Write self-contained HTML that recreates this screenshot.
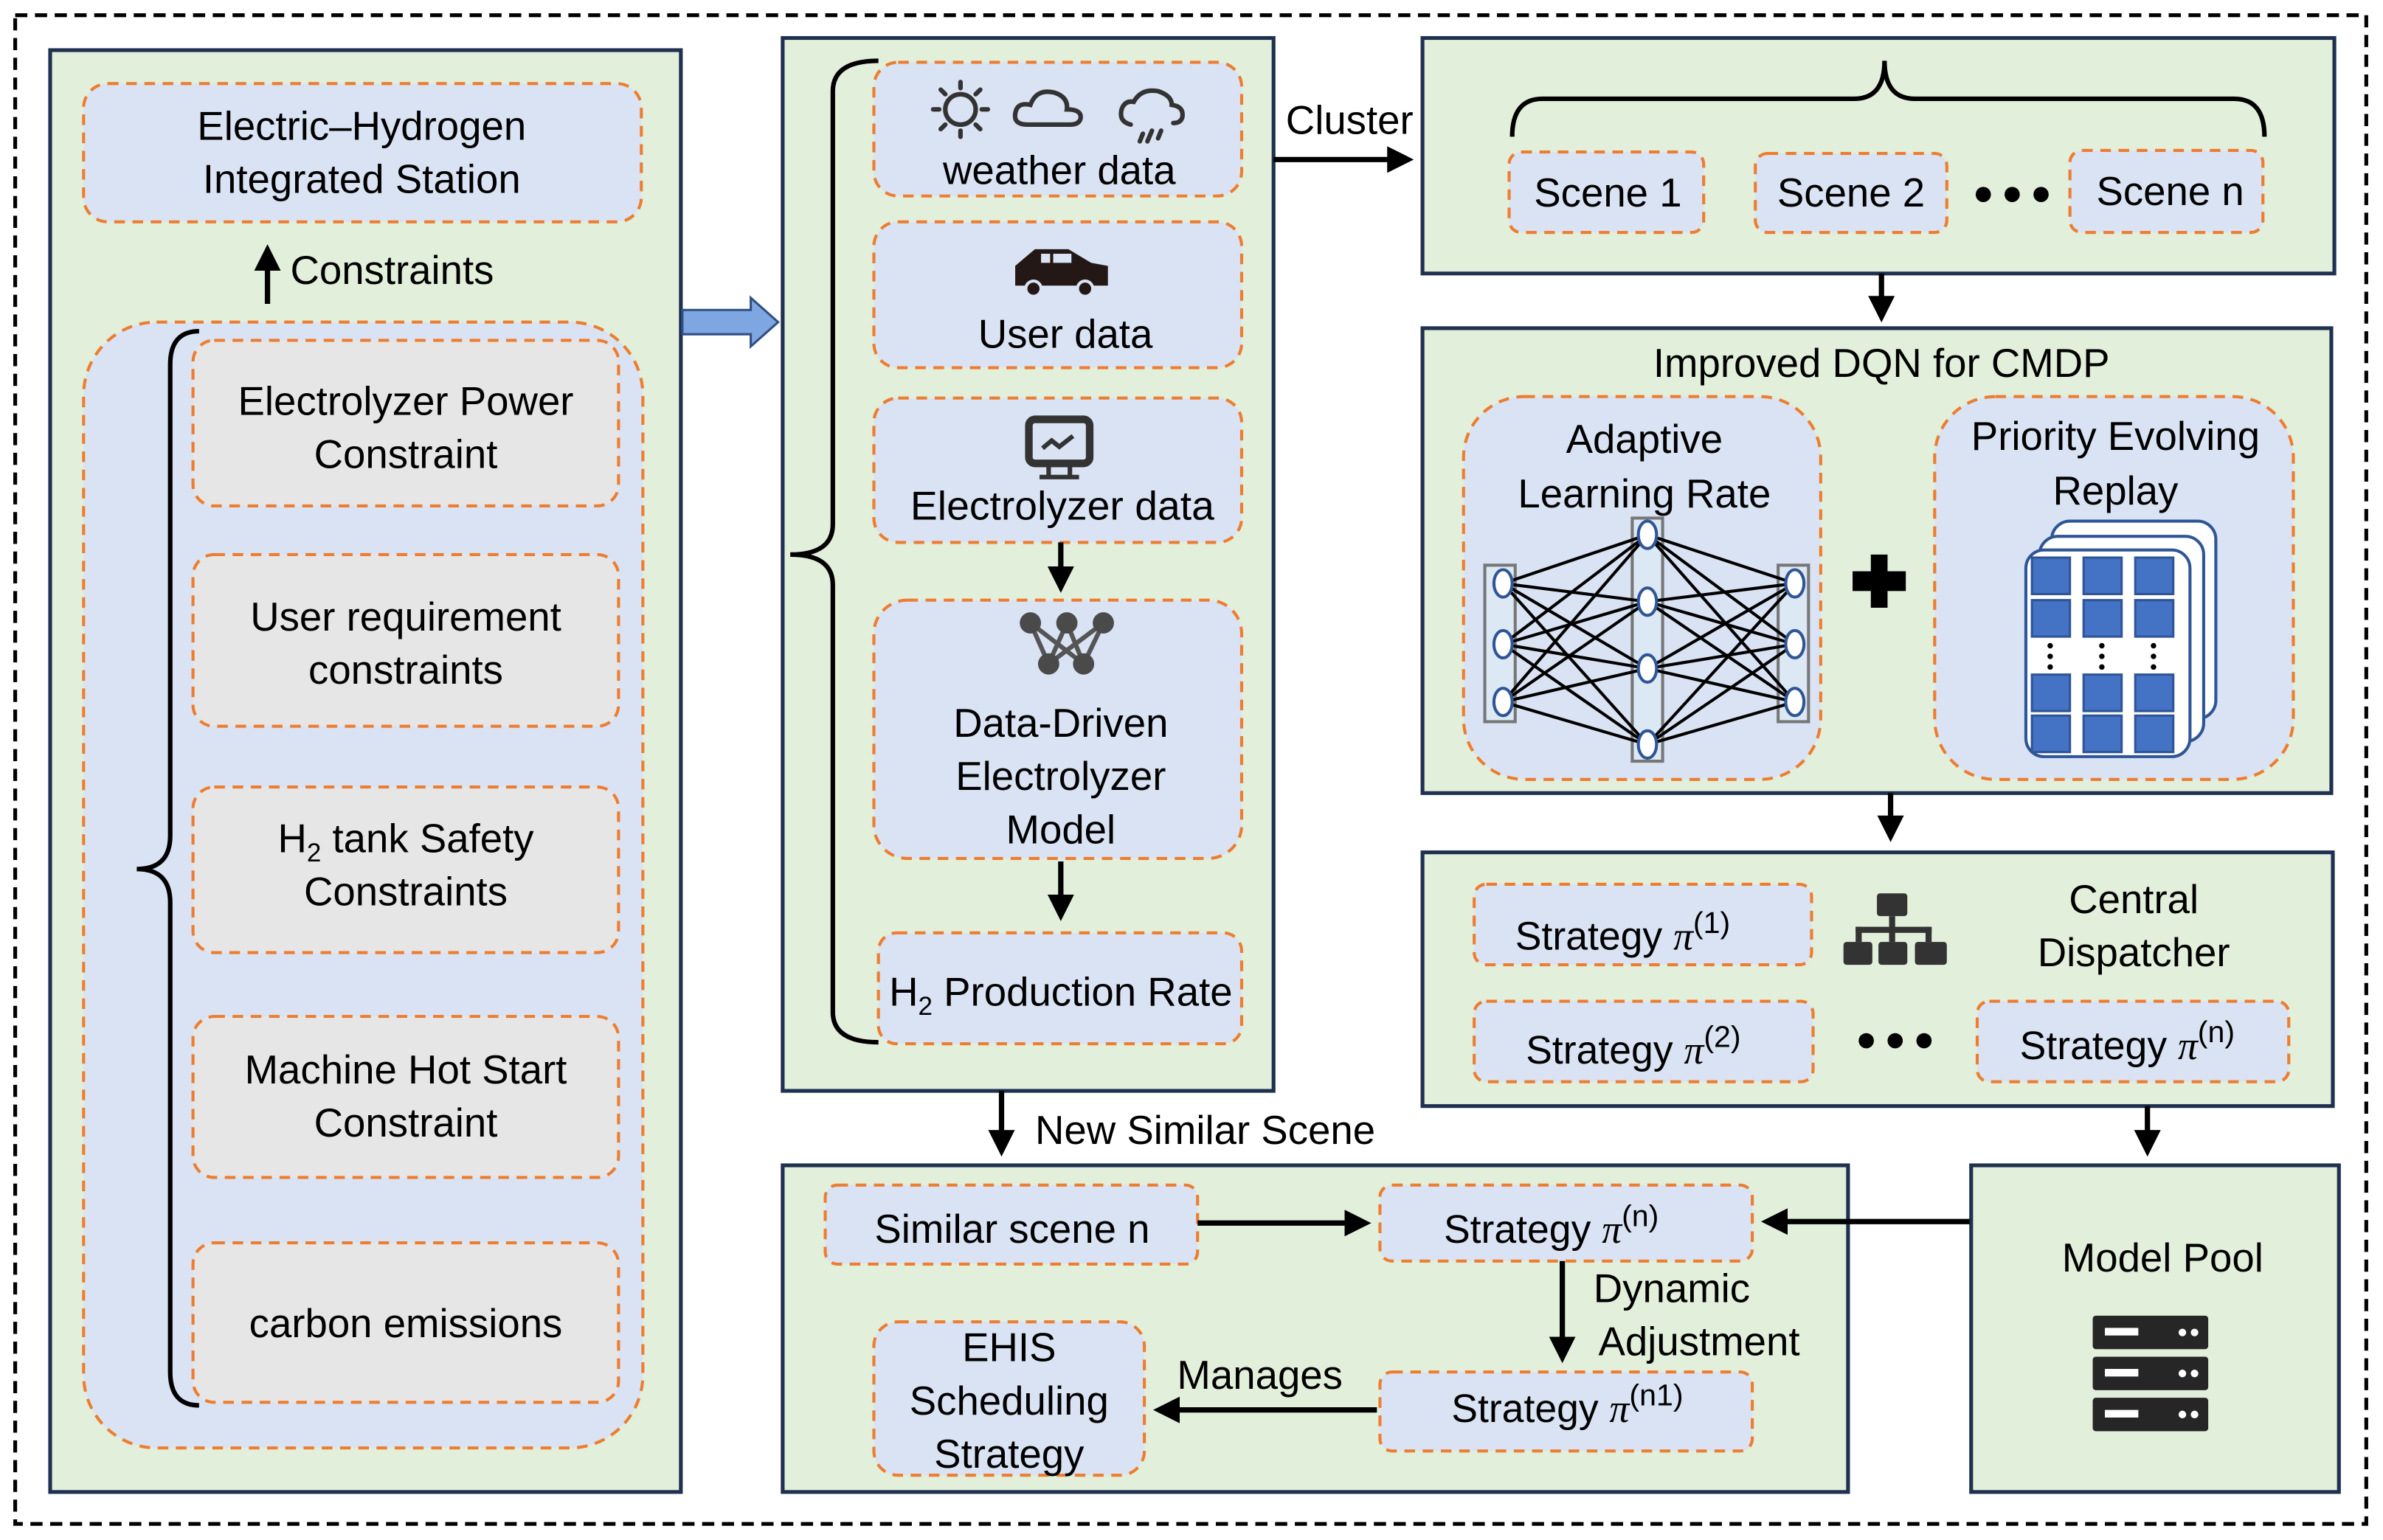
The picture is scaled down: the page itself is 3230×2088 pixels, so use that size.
<!DOCTYPE html>
<html><head><meta charset="utf-8"><style>
html,body{margin:0;padding:0;background:#fff}
svg{display:block}
text{font-family:"Liberation Sans",sans-serif;fill:#000}
</style></head><body>
<svg width="3230" height="2088" viewBox="0 0 1568 1013.6" xmlns="http://www.w3.org/2000/svg">
<defs>
<marker id="ah" markerWidth="5" markerHeight="5" refX="3.5" refY="2.5" orient="auto" markerUnits="strokeWidth"><path d="M0,0 L5,2.5 L0,5 z" fill="#000"/></marker>
</defs>
<rect x="0" y="0" width="1568" height="1014" fill="#fff"/>
<rect x="10" y="10" width="1547" height="993" fill="none" stroke="#000" stroke-width="2.5" stroke-dasharray="8,5"/>

<g stroke="#1f3050" stroke-width="2.5" fill="#e2efda">
<rect x="33" y="33" width="415" height="949"/>
<rect x="515" y="25" width="323" height="693"/>
<rect x="936" y="25" width="600" height="155"/>
<rect x="936" y="216" width="598" height="306"/>
<rect x="936" y="561" width="599" height="167"/>
<rect x="1297" y="767" width="242" height="215"/>
<rect x="515" y="767" width="701" height="215"/>
</g>

<g stroke="#ed7d31" stroke-width="2" stroke-dasharray="7,5" fill="#dae3f3">
<rect x="55" y="55" width="367" height="91" rx="16"/>
<rect x="55" y="212" width="368" height="741" rx="48"/>
<rect x="575" y="41" width="242" height="88" rx="16"/>
<rect x="575" y="146" width="242" height="96" rx="16"/>
<rect x="575" y="262" width="242" height="95" rx="16"/>
<rect x="575" y="395" width="242" height="170" rx="22"/>
<rect x="578" y="614" width="239" height="73" rx="12"/>
<rect x="993" y="100" width="128" height="53" rx="8"/>
<rect x="1155" y="101" width="126" height="52" rx="8"/>
<rect x="1362" y="99" width="127" height="54" rx="8"/>
<rect x="963" y="261" width="235" height="252" rx="40"/>
<rect x="1273" y="261" width="236" height="252" rx="40"/>
<rect x="970" y="582" width="222" height="53" rx="8"/>
<rect x="970" y="659" width="223" height="53" rx="8"/>
<rect x="1301" y="659" width="205" height="53" rx="8"/>
<rect x="543" y="780" width="245" height="52" rx="8"/>
<rect x="908" y="780" width="245" height="50" rx="8"/>
<rect x="908" y="903" width="245" height="52" rx="8"/>
<rect x="575" y="870" width="178" height="101" rx="16"/>
</g>
<g stroke="#ed7d31" stroke-width="2" stroke-dasharray="7,5" fill="#e7e6e6">
<rect x="127" y="224" width="280" height="109" rx="14"/>
<rect x="127" y="365" width="280" height="113" rx="14"/>
<rect x="127" y="518" width="280" height="109" rx="14"/>
<rect x="127" y="669" width="280" height="106" rx="14"/>
<rect x="127" y="818" width="280" height="105" rx="14"/>
</g>

<!-- braces -->
<g fill="none" stroke="#000" stroke-width="3">
<path d="M131,218 Q112,218 112,240 L112,550 Q112,572 90,572 Q112,572 112,594 L112,903 Q112,925 131,925"/>
<path d="M578,40 Q548,40 548,60 L548,345 Q548,365 520,365 Q548,365 548,385 L548,666 Q548,686 578,686"/>
<path d="M995,90 Q995,65 1015,65 L1220,65 Q1240,65 1240,40 Q1240,65 1260,65 L1470,65 Q1490,65 1490,90"/>
</g>

<!-- arrows -->
<g stroke="#000" stroke-width="3.5" marker-end="url(#ah)">
<line x1="176" y1="200" x2="176" y2="166"/>
<line x1="698" y1="357" x2="698" y2="385"/>
<line x1="698" y1="567" x2="698" y2="601"/>
<line x1="838" y1="105" x2="925" y2="105"/>
<line x1="1238" y1="180" x2="1238" y2="207"/>
<line x1="1244" y1="522" x2="1244" y2="549"/>
<line x1="1413" y1="728" x2="1413" y2="756"/>
<line x1="659" y1="718" x2="659" y2="756"/>
<line x1="788" y1="805" x2="897" y2="805"/>
<line x1="1296" y1="804" x2="1164" y2="804"/>
<line x1="1028" y1="830" x2="1028" y2="892"/>
<line x1="906" y1="928" x2="764" y2="928"/>
</g>
<!-- block arrow -->
<path d="M449,204 L494,204 L494,196 L512,212 L494,228 L494,220 L449,220 z" fill="#7ea6e0" stroke="#2f4f86" stroke-width="1.5"/>

<!-- text -->
<g font-size="26.5" text-anchor="middle">
<text x="238" y="92">Electric–Hydrogen</text>
<text x="238" y="127">Integrated Station</text>
<text x="258" y="187">Constraints</text>
<text x="267" y="273">Electrolyzer Power</text>
<text x="267" y="308">Constraint</text>
<text x="267" y="415">User requirement</text>
<text x="267" y="450">constraints</text>
<text x="267" y="561">H<tspan font-size="17" dy="6">2</tspan><tspan dy="-6"> tank Safety</tspan></text>
<text x="267" y="596">Constraints</text>
<text x="267" y="713">Machine Hot Start</text>
<text x="267" y="748">Constraint</text>
<text x="267" y="880">carbon emissions</text>
<text x="697" y="121">weather data</text>
<text x="701" y="229">User data</text>
<text x="699" y="342" textLength="200" lengthAdjust="spacingAndGlyphs">Electrolyzer data</text>
<text x="698" y="485">Data-Driven</text>
<text x="698" y="520">Electrolyzer</text>
<text x="698" y="555">Model</text>
<text x="698" y="662" textLength="226" lengthAdjust="spacingAndGlyphs">H<tspan font-size="17" dy="6">2</tspan><tspan dy="-6"> Production Rate</tspan></text>
<text x="888" y="88">Cluster</text>
<text x="1058" y="136">Scene 1</text>
<text x="1218" y="136">Scene 2</text>
<text x="1428" y="135">Scene n</text>
<text x="1238" y="248">Improved DQN for CMDP</text>
<text x="1082" y="298">Adaptive</text>
<text x="1082" y="334">Learning Rate</text>
<text x="1392" y="296">Priority Evolving</text>
<text x="1392" y="332">Replay</text>
<text x="1404" y="601">Central</text>
<text x="1404" y="636">Dispatcher</text>
<text x="1423" y="837">Model Pool</text>
<text x="793" y="753">New Similar Scene</text>
<text x="666" y="818">Similar scene n</text>
<text x="1100" y="857">Dynamic</text>
<text x="1118" y="892">Adjustment</text>
<text x="829" y="914">Manages</text>
<text x="664" y="896">EHIS</text>
<text x="664" y="931">Scheduling</text>
<text x="664" y="966">Strategy</text>
</g>
<g font-size="26">
<text x="997" y="625">Strategy <tspan font-family="Liberation Serif" font-style="italic">π</tspan><tspan font-size="20" dy="-11">(1)</tspan></text>
<text x="1004" y="700">Strategy <tspan font-family="Liberation Serif" font-style="italic">π</tspan><tspan font-size="20" dy="-11">(2)</tspan></text>
<text x="1329" y="697">Strategy <tspan font-family="Liberation Serif" font-style="italic">π</tspan><tspan font-size="20" dy="-11">(n)</tspan></text>
<text x="950" y="818">Strategy <tspan font-family="Liberation Serif" font-style="italic">π</tspan><tspan font-size="20" dy="-11">(n)</tspan></text>
<text x="955" y="936">Strategy <tspan font-family="Liberation Serif" font-style="italic">π</tspan><tspan font-size="20" dy="-11">(n1)</tspan></text>
</g>

<!-- dots -->
<g fill="#000">
<circle cx="1305" cy="128" r="5"/><circle cx="1324" cy="128" r="5"/><circle cx="1343" cy="128" r="5"/>
<circle cx="1228" cy="685" r="5"/><circle cx="1247" cy="685" r="5"/><circle cx="1266" cy="685" r="5"/>
<rect x="1231" y="365" width="11" height="35"/><rect x="1219" y="376" width="35" height="13"/>
</g>

<!-- weather icons -->
<g stroke="#333" stroke-width="3" fill="none" stroke-linecap="round">
<circle cx="632" cy="72" r="10"/>
<line x1="632" y1="54" x2="632" y2="58"/><line x1="632" y1="86" x2="632" y2="90"/>
<line x1="614" y1="72" x2="618" y2="72"/><line x1="646" y1="72" x2="650" y2="72"/>
<line x1="619" y1="59" x2="622" y2="62"/><line x1="642" y1="82" x2="645" y2="85"/>
<line x1="645" y1="59" x2="642" y2="62"/><line x1="619" y1="85" x2="622" y2="82"/>
<path d="M676,82 Q667,82 668,75 Q669,67 678,69 Q682,58 694,61 Q703,64 702,72 Q712,72 711,78 Q710,82 704,82 z"/>
<path d="M744,82 Q736,80 738,72 Q740,66 746,67 Q751,58 762,60 Q771,63 771,69 Q779,70 778,77 Q777,81 772,81"/>
<path d="M752,88 l-2,5 M758,86 l-3,7 M764,86 l-2,5" />
</g>
<!-- car -->
<path d="M668,188 L668,175 L681,164 L703,164 L718,173 L729,175 L729,188 z" fill="#231815"/>
<rect x="685" y="167" width="6" height="6" fill="#dae3f3"/><rect x="693" y="167" width="12" height="6" fill="#dae3f3"/>
<circle cx="680" cy="190" r="5" fill="#231815" stroke="#dae3f3" stroke-width="2"/>
<circle cx="714" cy="190" r="5" fill="#231815" stroke="#dae3f3" stroke-width="2"/>
<!-- monitor -->
<rect x="677" y="276" width="40" height="29" rx="4" fill="none" stroke="#333" stroke-width="5"/>
<path d="M686,295 l6,-5 l5,4 l9,-7" stroke="#333" stroke-width="3" fill="none"/>
<path d="M690,307 l0,6 M704,307 l0,6 M684,314 l26,0" stroke="#333" stroke-width="3"/>
<!-- model icon -->
<g stroke="#555" stroke-width="3">
<line x1="678" y1="410" x2="690" y2="437"/><line x1="678" y1="410" x2="713" y2="437"/>
<line x1="702" y1="410" x2="690" y2="437"/><line x1="702" y1="410" x2="713" y2="437"/>
<line x1="726" y1="410" x2="690" y2="437"/><line x1="726" y1="410" x2="713" y2="437"/>
</g>
<g fill="#4a4a4a"><circle cx="678" cy="410" r="7"/><circle cx="702" cy="410" r="7"/><circle cx="726" cy="410" r="7"/><circle cx="690" cy="437" r="7"/><circle cx="713" cy="437" r="7"/></g>

<!-- neural net -->
<g fill="#dce9f5" stroke="#777" stroke-width="2">
<rect x="977" y="372" width="20" height="103"/>
<rect x="1074" y="341" width="20" height="160"/>
<rect x="1170" y="372" width="20" height="103"/>
</g>
<g stroke="#000" stroke-width="2">
<path d="M989,384 L1084,352 M989,384 L1084,396 M989,384 L1084,440 M989,384 L1084,490
M989,424 L1084,352 M989,424 L1084,396 M989,424 L1084,440 M989,424 L1084,490
M989,462 L1084,352 M989,462 L1084,396 M989,462 L1084,440 M989,462 L1084,490
M1181,384 L1084,352 M1181,384 L1084,396 M1181,384 L1084,440 M1181,384 L1084,490
M1181,424 L1084,352 M1181,424 L1084,396 M1181,424 L1084,440 M1181,424 L1084,490
M1181,462 L1084,352 M1181,462 L1084,396 M1181,462 L1084,440 M1181,462 L1084,490"/>
</g>
<g fill="#fff" stroke="#2f5597" stroke-width="2">
<ellipse cx="989" cy="384" rx="6" ry="9"/><ellipse cx="989" cy="424" rx="6" ry="9"/><ellipse cx="989" cy="462" rx="6" ry="9"/>
<ellipse cx="1084" cy="352" rx="6" ry="9"/><ellipse cx="1084" cy="396" rx="6" ry="9"/><ellipse cx="1084" cy="440" rx="6" ry="9"/><ellipse cx="1084" cy="490" rx="6" ry="9"/>
<ellipse cx="1181" cy="384" rx="6" ry="9"/><ellipse cx="1181" cy="424" rx="6" ry="9"/><ellipse cx="1181" cy="462" rx="6" ry="9"/>
</g>
<!-- replay cards -->
<g fill="#fff" stroke="#2f5597" stroke-width="2">
<rect x="1350" y="343" width="108" height="130" rx="12"/>
<rect x="1342" y="353" width="108" height="135" rx="12"/>
<rect x="1333" y="362" width="108" height="136" rx="12"/>
</g>
<g fill="#4472c4" stroke="#2f5597" stroke-width="1.5">
<rect x="1337" y="367" width="25" height="24"/><rect x="1371" y="367" width="25" height="24"/><rect x="1405" y="367" width="25" height="24"/>
<rect x="1337" y="395" width="25" height="24"/><rect x="1371" y="395" width="25" height="24"/><rect x="1405" y="395" width="25" height="24"/>
<rect x="1337" y="444" width="25" height="24"/><rect x="1371" y="444" width="25" height="24"/><rect x="1405" y="444" width="25" height="24"/>
<rect x="1337" y="471" width="25" height="24"/><rect x="1371" y="471" width="25" height="24"/><rect x="1405" y="471" width="25" height="24"/>
</g>
<g fill="#000">
<circle cx="1349" cy="425" r="1.8"/><circle cx="1349" cy="432" r="1.8"/><circle cx="1349" cy="439" r="1.8"/>
<circle cx="1383" cy="425" r="1.8"/><circle cx="1383" cy="432" r="1.8"/><circle cx="1383" cy="439" r="1.8"/>
<circle cx="1417" cy="425" r="1.8"/><circle cx="1417" cy="432" r="1.8"/><circle cx="1417" cy="439" r="1.8"/>
</g>
<!-- hierarchy icon -->
<g fill="#333">
<rect x="1235" y="588" width="20" height="15" rx="2"/>
<rect x="1243" y="603" width="4" height="9"/>
<rect x="1221" y="610" width="50" height="4"/>
<rect x="1221" y="610" width="4" height="10"/><rect x="1243" y="610" width="4" height="10"/><rect x="1267" y="610" width="4" height="10"/>
<rect x="1213" y="620" width="19" height="15" rx="2"/><rect x="1236" y="620" width="19" height="15" rx="2"/><rect x="1260" y="620" width="21" height="15" rx="2"/>
</g>
<!-- server -->
<g fill="#262626">
<rect x="1377" y="866" width="76" height="22" rx="2"/>
<rect x="1377" y="893" width="76" height="22" rx="2"/>
<rect x="1377" y="920" width="76" height="22" rx="2"/>
</g>
<g fill="#fff">
<rect x="1385" y="874" width="22" height="5"/><rect x="1385" y="901" width="22" height="5"/><rect x="1385" y="928" width="22" height="5"/>
<circle cx="1436" cy="877" r="2.5"/><circle cx="1444" cy="877" r="2.5"/>
<circle cx="1436" cy="904" r="2.5"/><circle cx="1444" cy="904" r="2.5"/>
<circle cx="1436" cy="931" r="2.5"/><circle cx="1444" cy="931" r="2.5"/>
</g>
</svg>
</body></html>
